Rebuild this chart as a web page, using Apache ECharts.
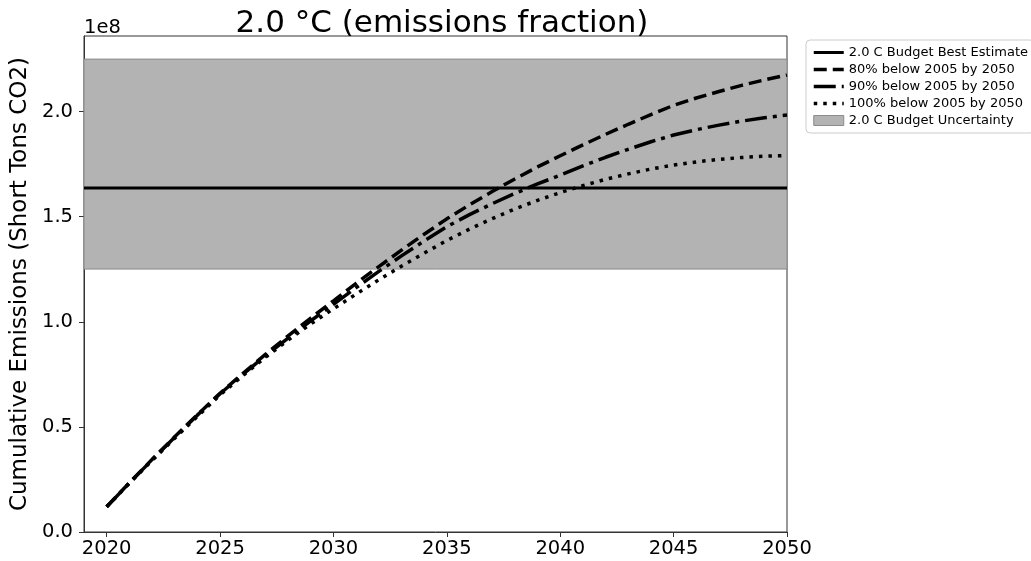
<!DOCTYPE html>
<html>
<head>
<meta charset="utf-8">
<script src="https://cdn.jsdelivr.net/npm/echarts@6/dist/echarts.min.js"></script>
<style>
html,body{margin:0;padding:0;background:#fff;}
#chart{width:1031px;height:561px;}
</style>
</head>
<body>
<div id="chart"></div>
<script>
// Values in units of 1e8 short tons CO2
var years = [2020,2021,2022,2023,2024,2025,2026,2027,2028,2029,2030,2031,2032,2033,2034,2035,2036,2037,2038,2039,2040,2041,2042,2043,2044,2045,2046,2047,2048,2049,2050];
var below80 = [0.120,0.234,0.345,0.453,0.558,0.660,0.754,0.845,0.933,1.018,1.100,1.183,1.263,1.341,1.417,1.490,1.557,1.620,1.680,1.737,1.790,1.842,1.892,1.940,1.986,2.030,2.065,2.096,2.125,2.151,2.174];
var below90 = [0.120,0.233,0.343,0.451,0.556,0.658,0.750,0.838,0.923,1.005,1.083,1.163,1.240,1.314,1.385,1.453,1.510,1.562,1.611,1.656,1.698,1.742,1.783,1.821,1.857,1.889,1.914,1.936,1.955,1.971,1.984];
var below100 = [0.120,0.232,0.340,0.446,0.550,0.652,0.744,0.831,0.913,0.990,1.062,1.132,1.200,1.265,1.327,1.387,1.441,1.491,1.537,1.578,1.615,1.648,1.678,1.704,1.727,1.746,1.761,1.773,1.782,1.788,1.791];
var budgetBest = 1.637;
var budgetLow = 1.251;
var budgetHigh = 2.250;
var xRange = [2019, 2050];
var xTicks = [2020,2025,2030,2035,2040,2045,2050];
var yTicks = [0,0.5,1.0,1.5,2.0];
var names = ['2.0 C Budget Best Estimate','80% below 2005 by 2050','90% below 2005 by 2050','100% below 2005 by 2050','2.0 C Budget Uncertainty'];

function pairs(ys){ return years.map(function(y,i){ return [y, ys[i]]; }); }

var FONT = 'DejaVu Sans';
var hideSym = {opacity: 0};
var chart = echarts.init(document.getElementById('chart'), null, {renderer:'canvas'});
chart.setOption({
  animation: false,
  backgroundColor: '#fff',
  textStyle: {fontFamily: FONT, color: '#000'},
  title: {
    text: '2.0 °C (emissions fraction)',
    left: 437, top: 3, textAlign: 'center',
    textStyle: {fontFamily: FONT, fontSize: 31, fontWeight: 'normal', color: '#000'}
  },
  graphic: [{
    type: 'text', left: 84, top: 18,
    style: {text: '1e8', fontFamily: FONT, fontSize: 19.5, fill: '#000'}
  }],
  legend: {
    orient: 'vertical', left: 806, top: 40,
    padding: [6, 6, 6, 6],
    itemWidth: 30, itemHeight: 10, itemGap: 4,
    borderColor: '#cccccc', borderWidth: 1, borderRadius: 4,
    backgroundColor: '#fff',
    textStyle: {fontFamily: FONT, fontSize: 13, color: '#000'},
    lineStyle: {width: 'inherit'},
    data: [
      {name: names[0], itemStyle: hideSym}, {name: names[1], itemStyle: hideSym},
      {name: names[2], itemStyle: hideSym}, {name: names[3], itemStyle: hideSym},
      {name: names[4], icon: 'rect', itemStyle: {color: '#b3b3b3', borderColor: '#8a8a8a', borderWidth: 1}}
    ]
  },
  grid: {left: 84, right: 244, top: 36, bottom: 29, show: true, borderColor: '#333', borderWidth: 1, backgroundColor: 'transparent'},
  xAxis: {
    type: 'value', min: xRange[0], max: xRange[1],
    axisLine: {show: true, onZero: false, lineStyle: {color: '#333', width: 1}},
    axisTick: {show: true, length: 5, customValues: xTicks, lineStyle: {color: '#333'}},
    axisLabel: {customValues: xTicks, fontFamily: FONT, fontSize: 19.5, color: '#000', margin: 7,
      formatter: function(v){ return String(v); }},
    splitLine: {show: false}
  },
  yAxis: {
    type: 'value', min: 0, max: 2.36,
    name: 'Cumulative Emissions (Short Tons CO2)', nameLocation: 'middle', nameGap: 49, nameRotate: 90,
    nameTextStyle: {fontFamily: FONT, fontSize: 23, color: '#000'},
    axisLine: {show: true, lineStyle: {color: '#333', width: 1}},
    axisTick: {show: true, length: 5, customValues: yTicks, lineStyle: {color: '#333'}},
    axisLabel: {customValues: yTicks, fontFamily: FONT, fontSize: 19.5, color: '#000', margin: 11,
      formatter: function(v){ return v.toFixed(1); }},
    splitLine: {show: false}
  },
  series: [
    {
      name: names[4], type: 'line', data: [], symbol: 'none',
      itemStyle: {color: '#b3b3b3'}, lineStyle: {color: '#b3b3b3'},
      markArea: {silent: true, itemStyle: {color: '#b3b3b3', borderColor: '#8a8a8a', borderWidth: 1},
        data: [[{yAxis: budgetLow}, {yAxis: budgetHigh}]]},
      z: 1
    },
    {
      name: names[0], type: 'line', symbol: 'none', silent: true,
      data: [[xRange[0], budgetBest], [xRange[1], budgetBest]],
      itemStyle: {color: '#000'}, lineStyle: {color: '#000', width: 3}, z: 3
    },
    {
      name: names[1], type: 'line', symbol: 'none', silent: true, data: pairs(below80),
      itemStyle: {color: '#000'}, lineStyle: {color: '#000', width: 3.5, type: [13, 6], cap: 'butt'}, z: 4
    },
    {
      name: names[2], type: 'line', symbol: 'none', silent: true, data: pairs(below90),
      itemStyle: {color: '#000'}, lineStyle: {color: '#000', width: 3.5, type: [22, 6, 4, 6], cap: 'butt'}, z: 4
    },
    {
      name: names[3], type: 'line', symbol: 'none', silent: true, data: pairs(below100),
      itemStyle: {color: '#000'}, lineStyle: {color: '#000', width: 3.5, type: [3.5, 6], cap: 'butt'}, z: 4
    }
  ]
});
</script>
</body>
</html>
